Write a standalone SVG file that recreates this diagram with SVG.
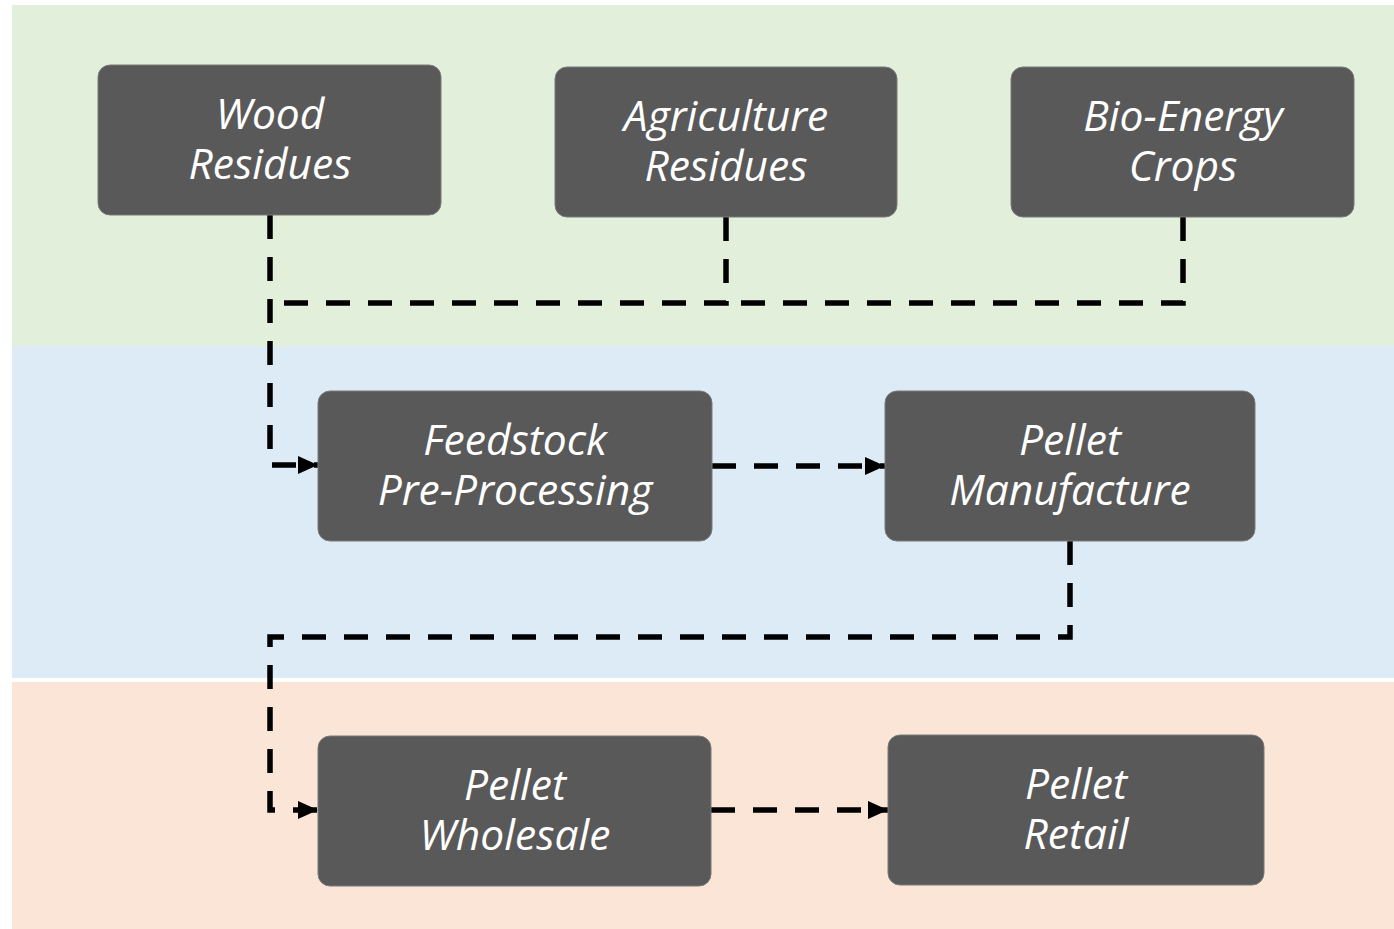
<svg xmlns="http://www.w3.org/2000/svg" width="1394" height="929" viewBox="0 0 1394 929">
<defs>
<style>
.box{fill:#595959;stroke:#7a7a7a;stroke-width:1}
.lbl{fill:#ffffff;font-family:"Open Sans","Noto Sans","Liberation Sans",sans-serif;font-style:italic;font-size:42.5px;text-anchor:middle}
.con{fill:none;stroke:#000;stroke-width:5.5;stroke-dasharray:24 18}
</style>
<marker id="ah" viewBox="0 0 20 18" refX="20" refY="9" markerWidth="20" markerHeight="18" markerUnits="userSpaceOnUse" orient="auto">
<path d="M0,0 L20,9 L0,18 Z" fill="#000"/>
</marker>
</defs>
<rect x="0" y="0" width="1394" height="929" fill="#ffffff"/>
<g id="bands">
<rect x="12" y="5" width="1382" height="341" fill="#E2EFDA"/>
<rect x="12" y="346" width="1382" height="332" fill="#DDEBF7"/>
<rect x="12" y="682" width="1382" height="247" fill="#FBE5D6"/>
</g>
<g id="connectors">
<path class="con" d="M270,215 V465 H318" marker-end="url(#ah)"/>
<path class="con" d="M726,217 V303 H270"/>
<path class="con" d="M1183,217 V303 H726"/>
<path class="con" d="M712,466 H885" marker-end="url(#ah)"/>
<path class="con" d="M1070,541 V637 H270 V810 H318" marker-end="url(#ah)"/>
<path class="con" d="M711,810 H888" marker-end="url(#ah)"/>
</g>
<g id="wood">
<rect class="box" x="98" y="65" width="343" height="150" rx="12"/>
<text class="lbl" x="270" y="129">Wood</text>
<text class="lbl" x="270" y="179">Residues</text>
</g>
<g id="agri">
<rect class="box" x="555" y="67" width="342" height="150" rx="12"/>
<text class="lbl" x="726" y="131">Agriculture</text>
<text class="lbl" x="726" y="181">Residues</text>
</g>
<g id="bio">
<rect class="box" x="1011" y="67" width="343" height="150" rx="12"/>
<text class="lbl" x="1183" y="131">Bio-Energy</text>
<text class="lbl" x="1183" y="181">Crops</text>
</g>
<g id="feedstock">
<rect class="box" x="318" y="391" width="394" height="150" rx="12"/>
<text class="lbl" x="515" y="455">Feedstock</text>
<text class="lbl" x="515" y="505">Pre-Processing</text>
</g>
<g id="manufacture">
<rect class="box" x="885" y="391" width="370" height="150" rx="12"/>
<text class="lbl" x="1070" y="455">Pellet</text>
<text class="lbl" x="1070" y="505">Manufacture</text>
</g>
<g id="wholesale">
<rect class="box" x="318" y="736" width="393" height="150" rx="12"/>
<text class="lbl" x="515" y="800">Pellet</text>
<text class="lbl" x="515" y="850">Wholesale</text>
</g>
<g id="retail">
<rect class="box" x="888" y="735" width="376" height="150" rx="12"/>
<text class="lbl" x="1076" y="799">Pellet</text>
<text class="lbl" x="1076" y="849">Retail</text>
</g>
</svg>
